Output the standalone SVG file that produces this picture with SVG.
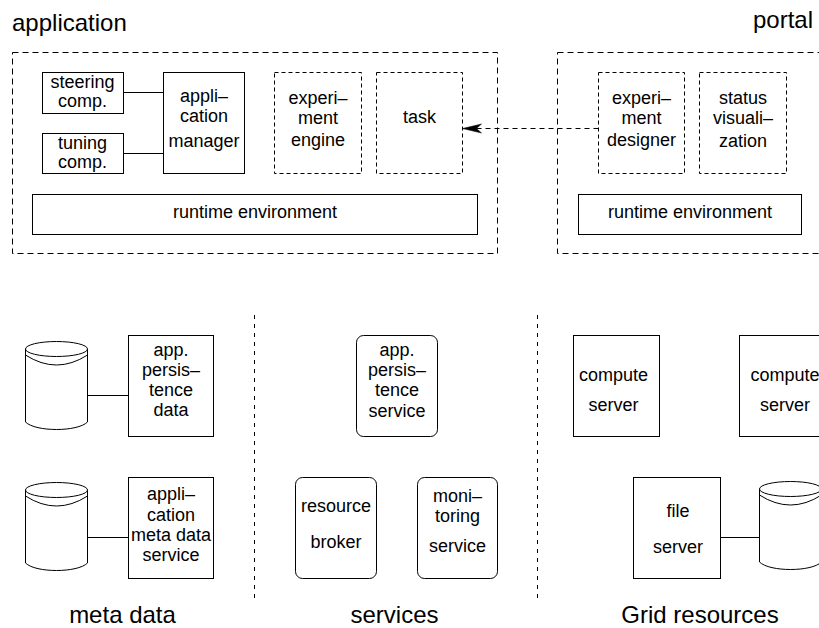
<svg xmlns="http://www.w3.org/2000/svg" width="819" height="628" viewBox="0 0 819 628">
<style>
  .box{fill:#fff;stroke:#000;stroke-width:1}
  .dbox{fill:none;stroke:#000;stroke-width:1;stroke-dasharray:6,4}
  .ibox{fill:none;stroke:#000;stroke-width:1;stroke-dasharray:4,3}
  .sep{fill:none;stroke:#000;stroke-width:1;stroke-dasharray:4,5}
  .ln{fill:none;stroke:#000;stroke-width:1}
  .arr{fill:none;stroke:#000;stroke-width:1;stroke-dasharray:5,4}
  text{font-family:"Liberation Sans",Arial,Helvetica,sans-serif;fill:#000}
  .t{font-size:18px;text-anchor:middle}
  .h{font-size:24px}
  .cyl{fill:#fff;stroke:#000;stroke-width:1}
</style>
<defs>
  <marker id="ah" markerUnits="userSpaceOnUse" markerWidth="22" markerHeight="12" viewBox="0 -6 22 12" refX="20" refY="0" orient="auto">
    <path d="M1,-4.5 L20,0 L1,4.5 L6,0 Z" fill="#000" stroke="#000" stroke-width="0.5"/>
  </marker>
  <g id="cylinder">
    <path class="cyl" d="M0,8 L0,81 C10,91 52,91 62,81 L62,8 Z"/>
    <ellipse class="cyl" cx="31" cy="8" rx="31" ry="7.5"/>
    <path class="ln" d="M0,14 Q31,34 62,14"/>
  </g>
</defs>

<!-- titles -->
<text class="h" x="12" y="31">application</text>
<text class="h" x="813" y="28" text-anchor="end">portal</text>
<text class="h" x="122.5" y="623" text-anchor="middle">meta data</text>
<text class="h" x="394.5" y="623" text-anchor="middle">services</text>
<text class="h" x="700" y="623" text-anchor="middle">Grid resources</text>

<!-- containers and separators -->
<g id="application">
  <rect class="dbox" x="12.5" y="52.5" width="485" height="201"/>
</g>
<g id="portal">
  <rect class="dbox" x="557.5" y="52.5" width="280" height="201"/>
</g>
<g id="separators">
  <line class="sep" x1="254.5" y1="315" x2="254.5" y2="598"/>
  <line class="sep" x1="537.5" y1="315" x2="537.5" y2="598"/>
</g>

<!-- connectors -->
<g id="connectors">
  <line class="ln" x1="123.5" y1="92.5" x2="163.5" y2="92.5"/>
  <line class="ln" x1="123.5" y1="153.5" x2="163.5" y2="153.5"/>
  <line class="ln" x1="87.5" y1="395.5" x2="128.5" y2="395.5"/>
  <line class="ln" x1="87.5" y1="537.5" x2="128.5" y2="537.5"/>
  <line class="ln" x1="720.5" y1="537.5" x2="759.5" y2="537.5"/>
  <line class="arr" x1="598.5" y1="128.5" x2="462.5" y2="128.5" marker-end="url(#ah)"/>
</g>

<!-- application nodes -->
<g id="steering">
  <rect class="box" x="42.5" y="72.5" width="81" height="41"/>
  <text class="t" x="82.5" y="88">steering</text>
  <text class="t" x="82.5" y="107">comp.</text>
</g>
<g id="tuning">
  <rect class="box" x="42.5" y="133.5" width="81" height="40"/>
  <text class="t" x="82.5" y="149">tuning</text>
  <text class="t" x="82.5" y="168">comp.</text>
</g>
<g id="appmanager">
  <rect class="box" x="163.5" y="72.5" width="81" height="101"/>
  <text class="t" x="204" y="102">appli–</text>
  <text class="t" x="204" y="122">cation</text>
  <text class="t" x="204" y="147">manager</text>
</g>
<g id="expengine">
  <rect class="ibox" x="274.5" y="72.5" width="87" height="101"/>
  <text class="t" x="318" y="104">experi–</text>
  <text class="t" x="318" y="124">ment</text>
  <text class="t" x="318" y="146">engine</text>
</g>
<g id="task">
  <rect class="ibox" x="376.5" y="72.5" width="86" height="101"/>
  <text class="t" x="419.5" y="123">task</text>
</g>
<g id="runtime-app">
  <rect class="box" x="32.5" y="194.5" width="445" height="40"/>
  <text class="t" x="255" y="218">runtime environment</text>
</g>

<!-- portal nodes -->
<g id="expdesigner">
  <rect class="ibox" x="598.5" y="72.5" width="86" height="101"/>
  <text class="t" x="641.5" y="104">experi–</text>
  <text class="t" x="641.5" y="124">ment</text>
  <text class="t" x="641.5" y="146">designer</text>
</g>
<g id="statusvis">
  <rect class="ibox" x="699.5" y="72.5" width="87" height="101"/>
  <text class="t" x="743" y="104">status</text>
  <text class="t" x="743" y="124">visuali–</text>
  <text class="t" x="743" y="147">zation</text>
</g>
<g id="runtime-portal">
  <rect class="box" x="578.5" y="194.5" width="223" height="40"/>
  <text class="t" x="690" y="218">runtime environment</text>
</g>

<!-- meta data -->
<g id="db1"><use href="#cylinder" transform="translate(25.5,341)"/></g>
<g id="apppersdata">
  <rect class="box" x="128.5" y="335.5" width="85" height="101"/>
  <text class="t" x="171" y="356">app.</text>
  <text class="t" x="171" y="376">persis–</text>
  <text class="t" x="171" y="396">tence</text>
  <text class="t" x="171" y="416">data</text>
</g>
<g id="db2"><use href="#cylinder" transform="translate(25.5,482)"/></g>
<g id="metadataservice">
  <rect class="box" x="128.5" y="477.5" width="85" height="101"/>
  <text class="t" x="171" y="500">appli–</text>
  <text class="t" x="171" y="521">cation</text>
  <text class="t" x="171" y="541">meta data</text>
  <text class="t" x="171" y="561">service</text>
</g>

<!-- services -->
<g id="apppersservice">
  <rect class="box" x="356.5" y="335.5" width="81" height="101" rx="7"/>
  <text class="t" x="397" y="356">app.</text>
  <text class="t" x="397" y="376">persis–</text>
  <text class="t" x="397" y="396">tence</text>
  <text class="t" x="397" y="417">service</text>
</g>
<g id="resourcebroker">
  <rect class="box" x="295.5" y="477.5" width="81" height="101" rx="7"/>
  <text class="t" x="336" y="512">resource</text>
  <text class="t" x="336" y="548">broker</text>
</g>
<g id="monitoring">
  <rect class="box" x="417.5" y="477.5" width="80" height="101" rx="7"/>
  <text class="t" x="457.5" y="502">moni–</text>
  <text class="t" x="457.5" y="522">toring</text>
  <text class="t" x="457.5" y="552">service</text>
</g>

<!-- grid resources -->
<g id="compute1">
  <rect class="box" x="573.5" y="335.5" width="86" height="101"/>
  <text class="t" x="613.5" y="381">compute</text>
  <text class="t" x="613.5" y="411">server</text>
</g>
<g id="compute2">
  <rect class="box" x="739.5" y="335.5" width="90" height="101"/>
  <text class="t" x="785" y="381">compute</text>
  <text class="t" x="785" y="411">server</text>
</g>
<g id="fileserver">
  <rect class="box" x="633.5" y="477.5" width="87" height="101"/>
  <text class="t" x="678" y="517">file</text>
  <text class="t" x="678" y="553">server</text>
</g>
<g id="db3"><use href="#cylinder" transform="translate(759.5,481)"/></g>
</svg>
